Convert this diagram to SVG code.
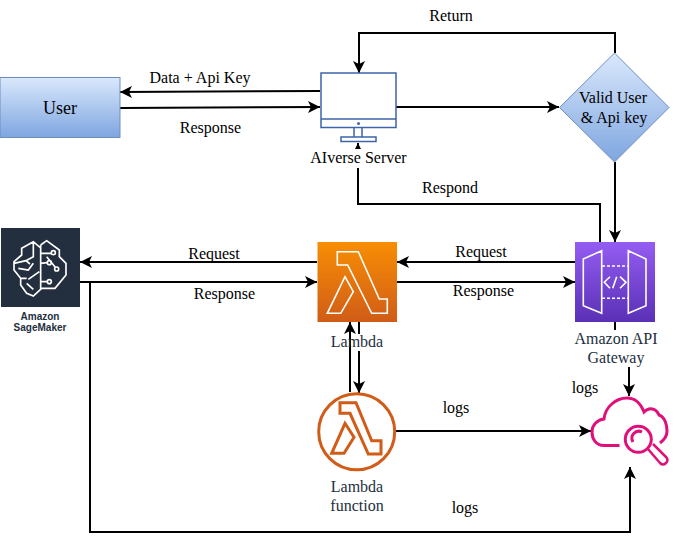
<svg xmlns="http://www.w3.org/2000/svg" width="676" height="541" viewBox="0 0 676 541">
<style>
text{font-family:"Liberation Serif","Times New Roman",serif;font-size:16px;fill:#000;text-anchor:middle}
text.lab{fill:#232f3e}
text.sm{font-family:"Liberation Sans",Arial,sans-serif;font-size:10px;font-weight:bold;fill:#232f3e}
.c{fill:none;stroke:#000;stroke-width:2}
.ic{fill:none;stroke:#fff;stroke-width:1.600}
</style>
<defs>
<marker id="a" markerUnits="userSpaceOnUse" markerWidth="14" markerHeight="12" refX="12" refY="6" orient="auto"><path d="M0 0L12 6L0 12L3 6Z" fill="#000"/></marker>
<linearGradient id="blue" x1="0" y1="0" x2="0" y2="1"><stop offset="0" stop-color="#dae8fc"/><stop offset="1" stop-color="#7ea6e0"/></linearGradient>
<linearGradient id="org" x1="0" y1="0" x2="0" y2="1"><stop offset="0" stop-color="#f78e04"/><stop offset="1" stop-color="#d05c17"/></linearGradient>
<linearGradient id="pur" x1="0" y1="0" x2="0" y2="1"><stop offset="0" stop-color="#945df2"/><stop offset="1" stop-color="#5a30b5"/></linearGradient>
</defs>
<rect width="676" height="541" fill="#fff"/>
<g id="connectors">
<path class="c" marker-end="url(#a)" d="M320 91L120 92"/>
<path class="c" marker-end="url(#a)" d="M120 108L320 107"/>
<path class="c" marker-end="url(#a)" d="M396 107H559"/>
<path class="c" marker-end="url(#a)" d="M615 53V33H359V73"/>
<path class="c" marker-end="url(#a)" d="M600 242V204H358V143"/>
<path class="c" marker-end="url(#a)" d="M615 162V242"/>
<path class="c" marker-end="url(#a)" d="M575 262H397"/>
<path class="c" marker-end="url(#a)" d="M397 282H575"/>
<path class="c" marker-end="url(#a)" d="M317 262H80"/>
<path class="c" marker-end="url(#a)" d="M80 282H317"/>
<path class="c" marker-end="url(#a)" d="M90 282V532H630V467"/>
<path class="c" marker-end="url(#a)" d="M359 322V393"/>
<path class="c" marker-end="url(#a)" d="M615 322V345H629V396"/>
<path class="c" marker-end="url(#a)" d="M395 431H591"/>
</g>
<g id="user"><rect x="0" y="77.500" width="120" height="60" fill="url(#blue)" stroke="#6c8ebf"/><text x="60" y="114" style="font-size:18px">User</text></g>
<g id="server">
<rect x="321" y="73" width="75" height="54.500" fill="#fff" stroke="#3d64a8" stroke-width="1.500"/>
<path d="M321 119H396M354 128V137M362 128V137" fill="none" stroke="#3d64a8" stroke-width="1.500"/>
<rect x="341" y="137" width="35" height="4.500" fill="#fff" stroke="#3d64a8" stroke-width="1.500"/>
<circle cx="358.500" cy="123.500" r="1.500" fill="#3d64a8"/>
<rect x="309" y="149" width="100" height="19" fill="#fff"/>
<text x="358.500" y="163">AIverse Server</text>
</g>
<g id="diamond"><path d="M614.500 53L669 107.500L614.500 162L559.500 107.500Z" fill="url(#blue)" stroke="#6c8ebf"/>
<text x="613" y="103">Valid User</text><text x="614" y="123">&amp; Api key</text></g>
<g id="sagemaker">
<rect x="1" y="228" width="79" height="79" fill="#232f3e"/>
<g transform="translate(0 220) scale(.3333)">
<path fill="none" stroke="#fff" stroke-width="5" d="M122 75L140 62L178 90V110L198 130V165L165 205H125L100 228L80 220L62 195V175L42 150V125L65 105V85L100 65L120 82M122 75V210M122 100H153M122 130L142 128M140 110L166 142M122 185H142M100 65V110L78 122L42 130M78 122L90 132M55 145L85 150L100 130M62 175H80M85 178L118 155M100 208L80 190"/>
<circle cx="160" cy="98" r="6" fill="none" stroke="#fff" stroke-width="5"/><circle cx="148" cy="128" r="6" fill="none" stroke="#fff" stroke-width="5"/><circle cx="170" cy="147" r="6" fill="none" stroke="#fff" stroke-width="5"/><circle cx="148" cy="185" r="6" fill="none" stroke="#fff" stroke-width="5"/>
</g>
<text x="40" y="320" class="sm">Amazon</text>
<text x="40" y="331" class="sm">SageMaker</text>
</g>
<g id="lambda">
<rect x="317.500" y="242" width="79.500" height="80" fill="url(#org)"/>
<path class="ic" d="M337.300 251.700H358.300L379.300 299H387.300V313.300H371.700L347.700 265H337.300ZM345 276.700L353.300 291.700L340.700 313.300H327.300Z"/>
<rect x="328" y="334" width="58" height="17" fill="#fff"/>
<path class="c" marker-end="url(#a)" d="M350 392V322"/>
<text x="357" y="347" class="lab">Lambda</text>
</g>
<g id="gateway">
<rect x="575" y="242" width="80" height="80" fill="url(#pur)"/>
<path class="ic" d="M583.300 259L601.700 250.700V313.300L583.300 305.700ZM628.300 250.700L646 259V305.700L628.300 313.300Z"/>
<path class="ic" stroke-dasharray="3 2" d="M602 266H628M602 298.300H628"/>
<path class="ic" d="M610 276.700L604.300 282.300L610 288.300M620 276.700L626 282.300L620 288.300M616.700 276.700L612.700 288.300"/>
<rect x="570" y="330" width="92" height="37" fill="#fff"/>
<text x="616" y="344" class="lab">Amazon API</text>
<text x="616" y="363" class="lab">Gateway</text>
</g>
<g id="lambdafn">
<circle cx="356.700" cy="431.700" r="38" fill="#fff" stroke="#d05c17" stroke-width="3"/>
<path d="M340 402.700H356L371.700 440.700H381V454H368.300L350 413.300H340ZM345 423.300L354 437.300L344 453.300H331.700Z" fill="none" stroke="#d05c17" stroke-width="3"/>
<text x="357" y="492" class="lab">Lambda</text>
<text x="357" y="511" class="lab">function</text>
</g>
<g id="cloudwatch" fill="none" stroke="#e0107a" stroke-width="3">
<path d="M619.500 445.500H604C596 445.500 592 439 592 432C592 425 597 420 604 419C605 407 616 398 627 398C635 398 640 402 644 412C649 407 656 408 659 415C665 417 667 425 667 431C667 436 664 440 660 443"/>
<circle cx="638.300" cy="439.300" r="13"/><path d="M633 442A7 7 0 0 1 642 432"/>
<path d="M648 449L660 463Q663 466 666 463Q669 460 666 457L653 444" stroke-width="2.500"/>
</g>
<g id="labels">
<text x="200" y="83">Data + Api Key</text>
<text x="210.500" y="133">Response</text>
<text x="451" y="21">Return</text>
<text x="450" y="193">Respond</text>
<text x="214" y="259">Request</text>
<text x="224.500" y="299">Response</text>
<text x="481" y="257">Request</text>
<text x="483.500" y="296">Response</text>
<text x="585" y="393">logs</text>
<text x="456" y="413">logs</text>
<text x="465" y="513">logs</text>
</g>
</svg>
